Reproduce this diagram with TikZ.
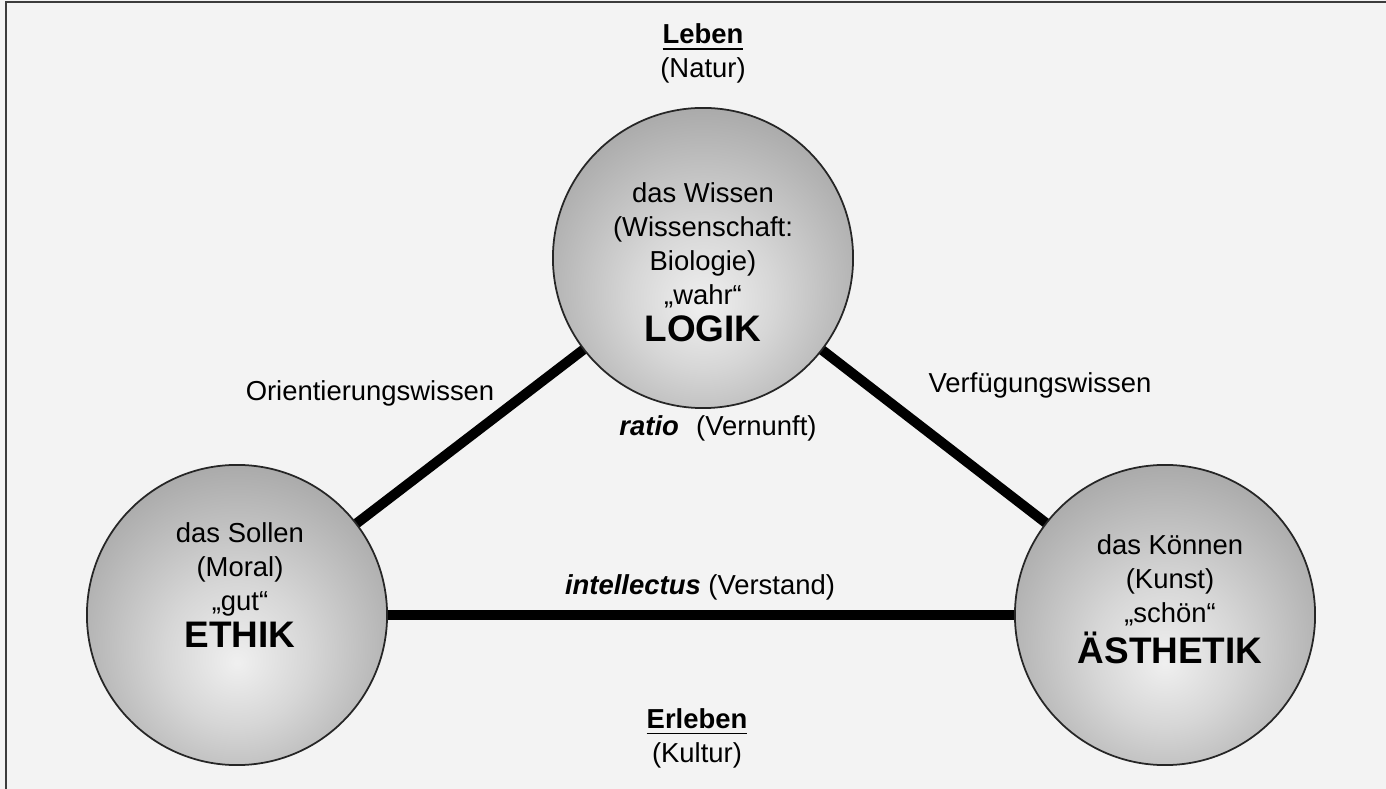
\documentclass[tikz,border=0pt]{standalone}
\usepackage{fontspec}
\setmainfont{Liberation Sans}
\usetikzlibrary{positioning,backgrounds}
\usepackage{xcolor}
\definecolor{PageGray}{RGB}{243,243,243}
\definecolor{FrameGray}{RGB}{60,60,60}
\pgfdeclareradialshading{orb}{\pgfpoint{0bp}{-8bp}}{%
color(0bp)=(white!94!black);color(12bp)=(white!84!black);
color(30bp)=(white!66!black);color(46bp)=(white!52!black);
color(62bp)=(white!42!black)}
\newcommand{\bigword}[1]{{\fontsize{10.5}{12}\selectfont\bfseries #1}}

\begin{document}
\begin{tikzpicture}[
x=0.01cm,y=-0.01cm,
font=\fontsize{7.8}{9.7}\selectfont,
ball/.style={circle,draw=black!85,line width=0.5pt,shading=orb,
minimum size=3cm,inner sep=0pt},
balltext/.style={align=center,inner sep=1pt},
link/.style={line width=1mm,draw=black}
]
\useasboundingbox (0,0) rectangle (1386,789);
\node[ball] (logik) at (703,258) {};
\node[ball] (ethik) at (237,615) {};
\node[ball] (asthetik) at (1165,615) {};
\begin{scope}[on background layer]
\fill[PageGray] (0,0) rectangle (1386,789);
\draw[link] (logik.center) -- (ethik.center);
\draw[link] (logik.center) -- (asthetik.center);
\draw[link] (ethik.center) -- (asthetik.center);
\end{scope}
\draw[FrameGray,line width=0.7pt] (6,789) -- (6,2) -- (1386,2);
% texts in the balls
\node[balltext] (logik-txt) at (703,262) {das Wissen\\(Wissenschaft:\\Biologie)\\„wahr“\\[0.6pt]\bigword{LOGIK}};
\node[balltext] (ethik-txt) at (240,585) {das Sollen\\(Moral)\\„gut“\\[0.6pt]\bigword{ETHIK}};
\node[balltext] (asthetik-txt) at (1170,599) {das Können\\(Kunst)\\„schön“\\[0.6pt]\bigword{ÄSTHETIK}};
% headings and edge labels
\node[align=center,above=1.1mm of logik] (leben) {\underline{\textbf{Leben}}\\(Natur)};
\node[align=center] (erleben) at (697,738) {\underline{\textbf{Erleben}}\\(Kultur)};
\node (orient) at (370,393) {Orientierungswissen};
\node (verfueg) at (1040,385) {Verfügungswissen};
\node (ratio) at (718,428) {\textbf{\textit{ratio}}\hspace{0.35em} (Vernunft)};
\node (intellect) at (700,587) {\textbf{\textit{intellectus}} (Verstand)};
\end{tikzpicture}
\end{document}
